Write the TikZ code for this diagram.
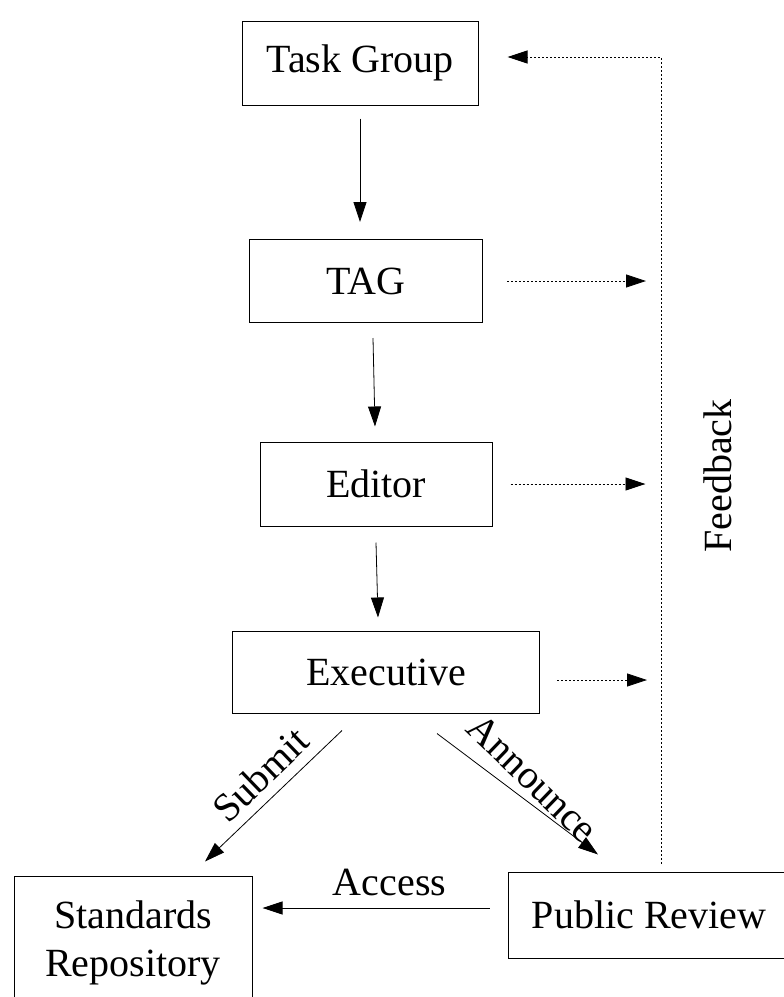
\documentclass[tikz,border=0pt]{standalone}
\usepackage{fontspec}
\setmainfont{Liberation Serif}
\usetikzlibrary{arrows.meta}
\begin{document}
\begin{tikzpicture}[x=1pt,y=-1pt,
  box/.style={draw, line width=1pt, inner sep=0pt, font=\fontsize{40}{48}\selectfont},
  arr/.style={line width=0.8pt, -{Triangle[length=20pt,width=13pt]}},
  fb/.style={arr, dash pattern=on 2pt off 2pt},
  lbl/.style={font=\fontsize{40}{48}\selectfont, inner sep=0pt}]
\useasboundingbox (0,0) rectangle (784,997);
\node[box, minimum width=236pt, minimum height=84pt] (tg) at (360,63) {Task Group};
\node[box, minimum width=233pt, minimum height=83pt] (tag) at (366,281) {TAG};
\node[box, minimum width=232pt, minimum height=84pt] (ed) at (376,484) {Editor};
\node[box, minimum width=307pt, minimum height=82pt] (ex) at (386,672) {Executive};
\node[box, minimum width=238pt, minimum height=134pt, align=center] (sr) at (133,943) {Standards\\Repository};
\node[box, minimum width=282pt, minimum height=86pt] (pr) at (649,915) {Public Review};
% vertical flow
\draw[arr] ([yshift=-13pt]tg.south) -- ([xshift=-6pt,yshift=17pt]tag.north);
\draw[arr] ([xshift=7pt,yshift=-15pt]tag.south) -- ([xshift=-1pt,yshift=15pt]ed.north);
\draw[arr] ([yshift=-16pt]ed.south) -- ([xshift=-8pt,yshift=13pt]ex.north);
% diagonals
\draw[arr] ([xshift=-44pt,yshift=-17pt]ex.south) -- ([xshift=72pt,yshift=14pt]sr.north)
  node[lbl, pos=0.47, rotate=44, anchor=south, yshift=10pt] (sub) {Submit};
\draw[arr] ([xshift=51pt,yshift=-20pt]ex.south) -- ([xshift=-51pt,yshift=17pt]pr.north)
  node[lbl, pos=0.5, rotate=-44, anchor=south, yshift=8pt] (ann) {Announce};
\draw[arr] ([xshift=-18pt,yshift=7pt]pr.west) -- ([xshift=10pt,yshift=35pt]sr.east)
  node[lbl, pos=0.44, above=12pt] (acc) {Access};
% feedback
\draw[fb] ([xshift=12pt,yshift=8pt]pr.north) |- ([xshift=29pt,yshift=6pt]tg.east);
\draw[fb] ([xshift=24pt]tag.east) -- ([xshift=163pt]tag.east);
\draw[fb] ([xshift=18pt]ed.east) -- ([xshift=153pt]ed.east);
\draw[fb] ([xshift=17pt,yshift=-8pt]ex.east) -- ([xshift=107pt,yshift=-8pt]ex.east);
\node[lbl, rotate=90] (fbl) at (718,476) {Feedback};
\end{tikzpicture}
\end{document}
